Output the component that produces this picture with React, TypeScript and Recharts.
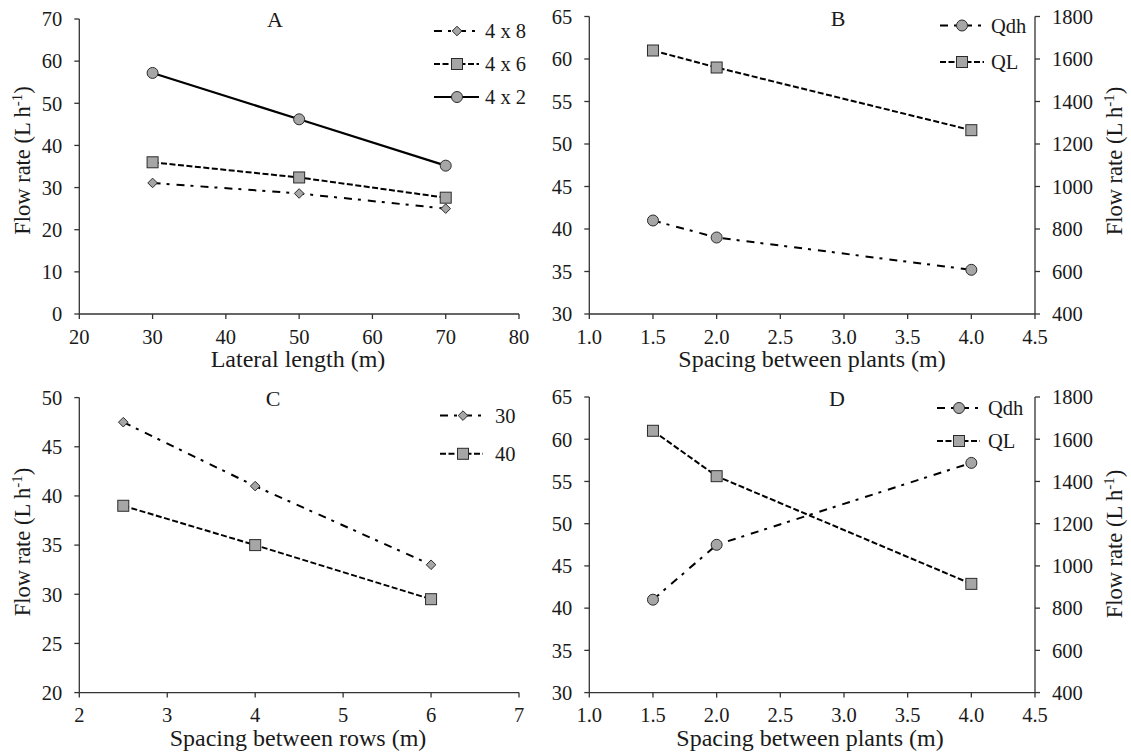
import React from 'react';
import { LineChart, Line, XAxis, YAxis, Legend } from 'recharts';

const FONT = '"Liberation Serif", "Times New Roman", serif';
const INK = '#1a1a1a';
const AXIS = '#333333';
const MARK_FILL = '#a6a6a6';
const MARK_STROKE = '#2b2b2b';

const DASH_DOT = '8 6 3 7';
const SHORT_DASH = '6 2.5';

// Panel A: flow rate vs lateral length
const lateralLength = [30, 50, 70];
const flow4x8 = [31.1, 28.6, 25.0];
const flow4x6 = [36.0, 32.4, 27.6];
const flow4x2 = [57.2, 46.2, 35.2];
const lateralTicks = [20, 30, 40, 50, 60, 70, 80];
const flowTicksA = [0, 10, 20, 30, 40, 50, 60, 70];

// Panel B: spacing between plants
const plantSpacingB = [1.5, 2.0, 4.0];
const qdhB = [41.0, 39.0, 35.2];
const qlB = [1640, 1560, 1265];

// Panel C: spacing between rows
const rowSpacing = [2.5, 4, 6];
const flow30 = [47.5, 41.0, 33.0];
const flow40 = [39.0, 35.0, 29.5];
const rowTicks = [2, 3, 4, 5, 6, 7];
const flowTicksC = [20, 25, 30, 35, 40, 45, 50];

// Panel D: spacing between plants
const plantSpacingD = [1.5, 2.0, 4.0];
const qdhD = [41.0, 47.5, 57.2];
const qlD = [1640, 1425, 915];

const plantTicks = [1.0, 1.5, 2.0, 2.5, 3.0, 3.5, 4.0, 4.5];
const qdhTicks = [30, 35, 40, 45, 50, 55, 60, 65];
const qlTicks = [400, 600, 800, 1000, 1200, 1400, 1600, 1800];

type Shape = 'diamond' | 'square' | 'circle';

interface Series {
  key: string;
  name: string;
  shape: Shape;
  dash?: string;
  axis: 'left' | 'right';
}

function Marker({ shape, cx, cy }: { shape: Shape; cx?: number; cy?: number }) {
  if (cx == null || cy == null || isNaN(cx) || isNaN(cy)) return null;
  const common = { fill: MARK_FILL, stroke: MARK_STROKE, strokeWidth: 1 };
  if (shape === 'circle') return <circle cx={cx} cy={cy} r={5.5} {...common} />;
  if (shape === 'square')
    return <rect x={cx - 5.5} y={cy - 5.5} width={11} height={11} {...common} />;
  const h = 4.8;
  return (
    <polygon
      points={`${cx},${cy - h} ${cx + h},${cy} ${cx},${cy + h} ${cx - h},${cy}`}
      {...common}
    />
  );
}

interface Box {
  l: number;
  t: number;
  r: number;
  b: number;
}

interface PanelProps {
  left: number;
  top: number;
  width: number;
  height: number;
  box: Box;
  data: Record<string, number>[];
  series: Series[];
  xDomain: [number, number];
  xTicks: number[];
  xFormat?: (v: number) => string;
  leftDomain: [number, number];
  leftTicks: number[];
  rightDomain?: [number, number];
  rightTicks?: number[];
  xTitle: string;
  xTitlePos: [number, number];
  yTitlePos: [number, number];
  yTitleSide: 'left' | 'right';
  letter: string;
  letterPos: [number, number];
  legendLine: [number, number, number, number]; // x0, markX, x1, textX
  legendRows: number[];
}

const tickStyle = { fill: INK, fontSize: 20.5, fontFamily: FONT };

function Panel(p: PanelProps) {
  const { left, top, width, height, box } = p;
  const hasRight = !!p.rightDomain;
  const leftW = box.l - left;
  const rightW = left + width - box.r;
  const xH = top + height - box.b;
  const loc = (x: number, y: number) => [x - left, y - top];

  const [xtX, xtY] = loc(p.xTitlePos[0], p.xTitlePos[1]);
  const [ytX, ytY] = loc(p.yTitlePos[0], p.yTitlePos[1]);

  const xTitle = () => (
    <text x={xtX} y={xtY} textAnchor="middle" fontFamily={FONT} fontSize={24} fill={INK}>
      {p.xTitle}
    </text>
  );
  const yTitle = () => (
    <text
      x={ytX}
      y={ytY}
      transform={`rotate(-90, ${ytX}, ${ytY})`}
      textAnchor="middle"
      fontFamily={FONT}
      fontSize={22.5}
      fill={INK}
    >
      Flow rate (L h
      <tspan dy={-8} fontSize={15}>
        -1
      </tspan>
      <tspan dy={8}>)</tspan>
    </text>
  );

  const overlay = () => {
    const [lx, ly] = loc(p.letterPos[0], p.letterPos[1]);
    const [x0, mx, x1, tx] = p.legendLine.map((v) => v - left);
    return (
      <svg
        width={width}
        height={height}
        style={{ position: 'absolute', left: 0, top: 0, overflow: 'visible', pointerEvents: 'none' }}
      >
        <text x={lx} y={ly + 7.5} textAnchor="middle" fontFamily={FONT} fontSize={22} fill={INK}>
          {p.letter}
        </text>
        {p.series.map((s, i) => {
          const y = p.legendRows[i] - top;
          return (
            <g key={s.key}>
              <line
                x1={x0}
                x2={x1}
                y1={y}
                y2={y}
                stroke="#000"
                strokeWidth={2}
                strokeDasharray={s.dash}
              />
              <Marker shape={s.shape} cx={mx} cy={y} />
              <text x={tx} y={y + 7} fontFamily={FONT} fontSize={20.5} fill={INK}>
                {s.name}
              </text>
            </g>
          );
        })}
      </svg>
    );
  };

  return (
    <div style={{ position: 'absolute', left, top, width, height }}>
      <LineChart
        width={width}
        height={height}
        data={p.data}
        margin={{ top: box.t - top, right: hasRight ? 0 : rightW, bottom: 0, left: 0 }}
      >
        <XAxis
          dataKey="x"
          type="number"
          domain={p.xDomain}
          ticks={p.xTicks}
          tickFormatter={p.xFormat}
          interval={0}
          height={xH}
          tick={tickStyle}
          tickSize={5}
          tickMargin={10}
          axisLine={{ stroke: AXIS, strokeWidth: 1.3 }}
          tickLine={{ stroke: AXIS, strokeWidth: 1.3 }}
          label={{ content: xTitle }}
        />
        <YAxis
          yAxisId="left"
          type="number"
          domain={p.leftDomain}
          ticks={p.leftTicks}
          interval={0}
          width={leftW}
          tick={tickStyle}
          tickSize={5}
          tickMargin={12}
          axisLine={{ stroke: AXIS, strokeWidth: 1.3 }}
          tickLine={{ stroke: AXIS, strokeWidth: 1.3 }}
          label={p.yTitleSide === 'left' ? { content: yTitle } : undefined}
        />
        {hasRight && (
          <YAxis
            yAxisId="right"
            orientation="right"
            type="number"
            domain={p.rightDomain}
            ticks={p.rightTicks}
            interval={0}
            width={rightW}
            tick={tickStyle}
            tickSize={5}
            tickMargin={12}
            axisLine={{ stroke: AXIS, strokeWidth: 1.3 }}
            tickLine={{ stroke: AXIS, strokeWidth: 1.3 }}
            label={{ content: yTitle }}
          />
        )}
        {p.series.map((s) => (
          <Line
            key={s.key}
            yAxisId={s.axis}
            dataKey={s.key}
            name={s.name}
            type="linear"
            stroke="#000"
            strokeWidth={s.dash ? 2 : 2.2}
            strokeDasharray={s.dash}
            isAnimationActive={false}
            dot={(d: any) => (
              <Marker key={`${s.key}-${d.index}`} shape={s.shape} cx={d.cx} cy={d.cy} />
            )}
            activeDot={false}
          />
        ))}
        <Legend
          layout="vertical"
          align="right"
          verticalAlign="middle"
          wrapperStyle={{
            position: 'absolute',
            left: 0,
            top: 0,
            right: 'auto',
            bottom: 'auto',
            width: 0,
            height: 0,
            margin: 0,
            padding: 0,
          }}
          content={overlay}
        />
      </LineChart>
    </div>
  );
}

const seriesA: Series[] = [
  { key: 's48', name: '4 x 8', shape: 'diamond', dash: DASH_DOT, axis: 'left' },
  { key: 's46', name: '4 x 6', shape: 'square', dash: SHORT_DASH, axis: 'left' },
  { key: 's42', name: '4 x 2', shape: 'circle', axis: 'left' },
];
const seriesQ: Series[] = [
  { key: 'qdh', name: 'Qdh', shape: 'circle', dash: DASH_DOT, axis: 'left' },
  { key: 'ql', name: 'QL', shape: 'square', dash: SHORT_DASH, axis: 'right' },
];
const seriesC: Series[] = [
  { key: 's30', name: '30', shape: 'diamond', dash: DASH_DOT, axis: 'left' },
  { key: 's40', name: '40', shape: 'square', dash: SHORT_DASH, axis: 'left' },
];

const dataA = lateralLength.map((x, i) => ({ x, s48: flow4x8[i], s46: flow4x6[i], s42: flow4x2[i] }));
const dataB = plantSpacingB.map((x, i) => ({ x, qdh: qdhB[i], ql: qlB[i] }));
const dataC = rowSpacing.map((x, i) => ({ x, s30: flow30[i], s40: flow40[i] }));
const dataD = plantSpacingD.map((x, i) => ({ x, qdh: qdhD[i], ql: qlD[i] }));

const fmt1 = (v: number) => v.toFixed(1);

export default function App() {
  return (
    <div
      style={{
        position: 'absolute',
        left: 0,
        top: 0,
        width: 1131,
        height: 755,
        background: '#fff',
        overflow: 'hidden',
      }}
    >
      <Panel
        left={0}
        top={0}
        width={565}
        height={377}
        box={{ l: 79.3, t: 19, r: 519, b: 314 }}
        data={dataA}
        series={seriesA}
        xDomain={[20, 80]}
        xTicks={lateralTicks}
        leftDomain={[0, 70]}
        leftTicks={flowTicksA}
        xTitle="Lateral length (m)"
        xTitlePos={[298, 366.5]}
        yTitlePos={[30, 160.5]}
        yTitleSide="left"
        letter="A"
        letterPos={[275, 19.5]}
        legendLine={[434, 457, 479, 485]}
        legendRows={[31, 64, 97]}
      />
      <Panel
        left={520}
        top={0}
        width={611}
        height={377}
        box={{ l: 589.3, t: 16.5, r: 1035, b: 314 }}
        data={dataB}
        series={seriesQ}
        xDomain={[1, 4.5]}
        xTicks={plantTicks}
        xFormat={fmt1}
        leftDomain={[30, 65]}
        leftTicks={qdhTicks}
        rightDomain={[400, 1800]}
        rightTicks={qlTicks}
        xTitle="Spacing between plants (m)"
        xTitlePos={[812, 366.5]}
        yTitlePos={[1122, 161]}
        yTitleSide="right"
        letter="B"
        letterPos={[838, 18]}
        legendLine={[940, 962, 984, 991]}
        legendRows={[25.5, 62]}
      />
      <Panel
        left={0}
        top={377}
        width={565}
        height={378}
        box={{ l: 79.3, t: 397.6, r: 519, b: 692.6 }}
        data={dataC}
        series={seriesC}
        xDomain={[2, 7]}
        xTicks={rowTicks}
        leftDomain={[20, 50]}
        leftTicks={flowTicksC}
        xTitle="Spacing between rows (m)"
        xTitlePos={[298, 745.5]}
        yTitlePos={[30, 542]}
        yTitleSide="left"
        letter="C"
        letterPos={[273, 398]}
        legendLine={[440, 463, 483, 495]}
        legendRows={[415.6, 453.8]}
      />
      <Panel
        left={520}
        top={377}
        width={611}
        height={378}
        box={{ l: 589.3, t: 397, r: 1035, b: 692.6 }}
        data={dataD}
        series={seriesQ}
        xDomain={[1, 4.5]}
        xTicks={plantTicks}
        xFormat={fmt1}
        leftDomain={[30, 65]}
        leftTicks={qdhTicks}
        rightDomain={[400, 1800]}
        rightTicks={qlTicks}
        xTitle="Spacing between plants (m)"
        xTitlePos={[810, 745.5]}
        yTitlePos={[1122, 544]}
        yTitleSide="right"
        letter="D"
        letterPos={[837, 398]}
        legendLine={[937, 959, 980, 988]}
        legendRows={[408, 441]}
      />
    </div>
  );
}
